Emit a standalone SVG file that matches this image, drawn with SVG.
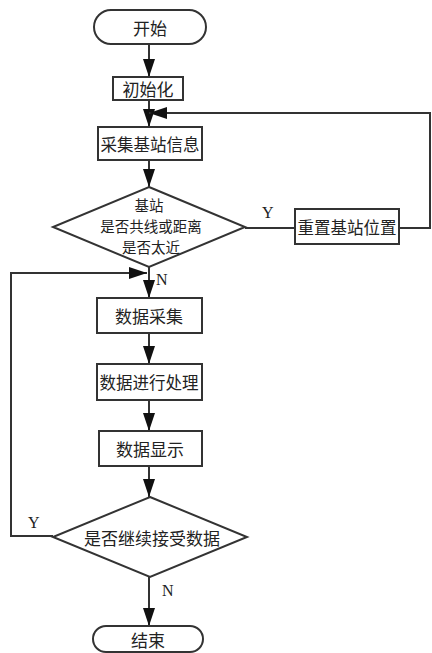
<svg xmlns="http://www.w3.org/2000/svg" width="432" height="653" viewBox="0 0 432 653">
<style>
.s{fill:#fff;stroke:#333;stroke-width:2}
.t{font-family:"Noto Sans CJK SC","Noto Sans",sans-serif;font-size:17px;fill:#222;text-anchor:middle;dominant-baseline:central}
.d{font-size:14.5px}
.l{font-family:"Liberation Serif",serif;font-size:16px;fill:#222}
.c{fill:none;stroke:#333;stroke-width:2}
</style>
<defs>
<marker id="b" markerWidth="18" markerHeight="12" refX="18" refY="6" orient="auto" markerUnits="userSpaceOnUse" viewBox="0 0 18 12">
<path d="M0,0 L18,6 L0,12 Z" fill="#111"/>
</marker>
</defs>
<rect width="432" height="653" fill="#fff"/>
<g id="connectors">
<line class="c" x1="149" y1="44" x2="149" y2="77" marker-end="url(#b)"/>
<line class="c" x1="149" y1="100" x2="149" y2="127" marker-end="url(#b)"/>
<line class="c" x1="149" y1="160" x2="149" y2="187" marker-end="url(#b)"/>
<polyline class="c" points="399,228 430,228 430,113 149,113" marker-end="url(#b)"/>
<line class="c" x1="245" y1="228" x2="295" y2="228"/>
<line class="c" x1="149" y1="267" x2="149" y2="298" marker-end="url(#b)"/>
<polyline class="c" points="53,536 11,536 11,273 147,273" marker-end="url(#b)"/>
<line class="c" x1="149" y1="333" x2="149" y2="364" marker-end="url(#b)"/>
<line class="c" x1="149" y1="400" x2="149" y2="431" marker-end="url(#b)"/>
<line class="c" x1="149" y1="466" x2="149" y2="497" marker-end="url(#b)"/>
<line class="c" x1="149" y1="577" x2="149" y2="626" marker-end="url(#b)"/>
<text class="l" x="262" y="218">Y</text>
<text class="l" x="156" y="285">N</text>
<text class="l" x="28" y="528">Y</text>
<text class="l" x="162" y="596">N</text>
</g>
<g id="start"><rect class="s" x="94" y="10" width="112" height="34" rx="17"/><text class="t" x="150" y="27">开始</text></g>
<g id="init"><rect class="s" x="113" y="77" width="70" height="23"/><text class="t" x="148" y="88.5">初始化</text></g>
<g id="collect"><rect class="s" x="98" y="127" width="104" height="33"/><text class="t" x="150" y="143.5" style="font-size:16.5px">采集基站信息</text></g>
<g id="check1"><polygon class="s" points="149,187 245,227 149,267 53,227"/>
<text class="t d" x="149" y="204">基站</text><text class="t d" x="151" y="225">是否共线或距离</text><text class="t d" x="151" y="246">是否太近</text></g>
<g id="reset"><rect class="s" x="295" y="209" width="104" height="35"/><text class="t" x="347" y="227" style="font-size:16.5px">重置基站位置</text></g>
<g id="acquire"><rect class="s" x="97" y="298" width="105" height="35"/><text class="t" x="149" y="315.5">数据采集</text></g>
<g id="process"><rect class="s" x="97" y="364" width="105" height="36"/><text class="t" x="149" y="382" style="font-size:16.5px">数据进行处理</text></g>
<g id="display"><rect class="s" x="99" y="431" width="103" height="35"/><text class="t" x="150" y="448.5">数据显示</text></g>
<g id="check2"><polygon class="s" points="150,497 247,537 150,577 53,537"/><text class="t" x="152" y="537">是否继续接受数据</text></g>
<g id="end"><rect class="s" x="93" y="626" width="110" height="26" rx="13"/><text class="t" x="148" y="639">结束</text></g>
</svg>
